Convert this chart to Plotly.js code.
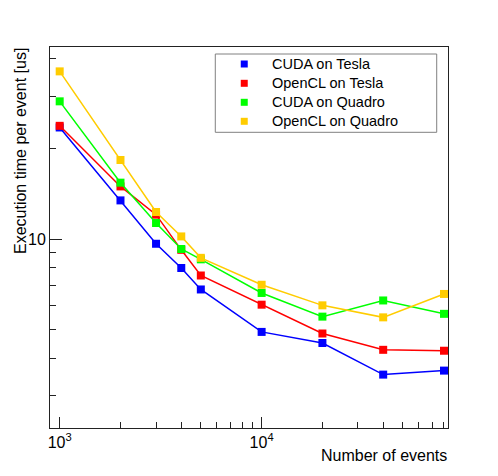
<!DOCTYPE html>
<html>
<head>
<meta charset="utf-8">
<script src="https://cdn.plot.ly/plotly-3.0.1.min.js"></script>
<style>html,body{margin:0;padding:0;background:#fff;}#chart{width:498px;height:476px;}</style>
</head>
<body>
<div id="chart"></div>
<script>
// Data
var events = [1000, 2000, 3000, 4000, 5000, 10000, 20000, 40000, 80000];
var cudaTesla    = [23.6, 13.46, 9.64, 8.0, 6.78, 4.89, 4.49, 3.52, 3.63];
var openclTesla  = [23.9, 14.99, 12.06, 9.2, 7.55, 6.03, 4.83, 4.26, 4.23];
var cudaQuadro   = [28.86, 15.43, 11.31, 9.26, 8.55, 6.6, 5.5, 6.23, 5.62];
var openclQuadro = [36.35, 18.37, 12.31, 10.2, 8.65, 7.03, 6.0, 5.47, 6.55];
var seriesNames = ["CUDA on Tesla", "OpenCL on Tesla", "CUDA on Quadro", "OpenCL on Quadro"];
var seriesColors = ["#0000ff", "#ff0000", "#00ff00", "#ffcc00"];
var xTitle = "Number of events";
var yTitle = "Execution time per event [us]";
var xTickVals = [1000, 10000];
var xTickText = ["10<sup>3</sup>", "10<sup>4</sup>"];
var yTickVals = [10];
var yTickText = ["10"];

var FONT = "Liberation Sans, Arial, Helvetica, sans-serif";
var W = 498, H = 476;
var M = {l: 49.5, r: 50, t: 47, b: 48};
var pw = W - M.l - M.r, ph = H - M.t - M.b;
function px(x) { return (x - M.l) / pw; }
function py(y) { return (H - M.b - y) / ph; }

var allSeries = [cudaTesla, openclTesla, cudaQuadro, openclQuadro];
var traces = [];
allSeries.forEach(function (vals, i) {
  traces.push({
    type: "scatter", mode: "lines+markers", x: events, y: vals, name: seriesNames[i],
    line: {color: seriesColors[i], width: 1.5},
    marker: {symbol: "square", size: 8, color: seriesColors[i]},
    showlegend: false, hoverinfo: "skip", cliponaxis: false
  });
});

// Legend built by hand (ROOT-style box)
var shapes = [{
  type: "rect", xref: "paper", yref: "paper",
  x0: px(215), x1: px(436.7), y0: py(132.3), y1: py(54),
  line: {color: "#808080", width: 1}, fillcolor: "#fff", layer: "above"
}];
var annotations = [];
var rowY = [64, 83.3, 102.3, 121.3];
seriesNames.forEach(function (nm, i) {
  shapes.push({
    type: "rect", xref: "paper", yref: "paper",
    x0: px(244 - 3.5), x1: px(244 + 3.5), y0: py(rowY[i] + 3.5), y1: py(rowY[i] - 3.5),
    line: {width: 0}, fillcolor: seriesColors[i], layer: "above"
  });
  annotations.push({
    text: nm, xref: "paper", yref: "paper", x: px(270), y: py(rowY[i]),
    xanchor: "left", yanchor: "middle", showarrow: false,
    font: {family: FONT, size: 14.5, color: "#000"}
  });
});
annotations.push(
  {text: xTitle, xref: "paper", yref: "paper", x: 1, y: 0, xanchor: "right", yanchor: "top",
   yshift: -17, xshift: 1, showarrow: false, font: {family: FONT, size: 16, color: "#000"}},
  {text: yTitle, xref: "paper", yref: "paper", x: 0, y: 1, xanchor: "left", yanchor: "top",
   xshift: -40.5, yshift: 1, textangle: -90, showarrow: false, font: {family: FONT, size: 16, color: "#000"}}
);

var minorY = [3, 4, 5, 6, 7, 8, 9, 20, 30, 40];
var minorX = [900, 2000, 3000, 4000, 5000, 6000, 7000, 8000, 9000, 20000, 30000, 40000, 50000, 60000, 70000, 80000];

var layout = {
  width: W, height: H,
  margin: {l: M.l, r: M.r, t: M.t, b: M.b, pad: 0},
  paper_bgcolor: "#fff", plot_bgcolor: "#fff",
  font: {family: FONT, size: 16, color: "#000"},
  showlegend: false,
  xaxis: {
    type: "log", range: [2.952, 4.923], autorange: false,
    showline: true, mirror: true, linecolor: "#222", linewidth: 1,
    showgrid: false, zeroline: false,
    ticks: "inside", ticklen: 11, tickcolor: "#222", tickwidth: 1,
    tickmode: "array", tickvals: xTickVals, ticktext: xTickText,
    tickfont: {family: FONT, size: 16, color: "#000"},
    minor: {tickmode: "array", tickvals: minorX, ticks: "inside", ticklen: 6, tickcolor: "#222", showgrid: false},
    title: {text: ""}
  },
  yaxis: {
    type: "log", range: [0.368, 1.642], autorange: false,
    showline: true, mirror: true, linecolor: "#222", linewidth: 1,
    showgrid: false, zeroline: false,
    ticks: "inside", ticklen: 12, tickcolor: "#222", tickwidth: 1,
    tickmode: "array", tickvals: yTickVals, ticktext: yTickText,
    tickfont: {family: FONT, size: 16, color: "#000"},
    minor: {tickmode: "array", tickvals: minorY, ticks: "inside", ticklen: 6, tickcolor: "#222", showgrid: false},
    title: {text: ""}
  },
  shapes: shapes,
  annotations: annotations
};

Plotly.newPlot("chart", traces, layout, {staticPlot: true, displayModeBar: false});
</script>
</body>
</html>
